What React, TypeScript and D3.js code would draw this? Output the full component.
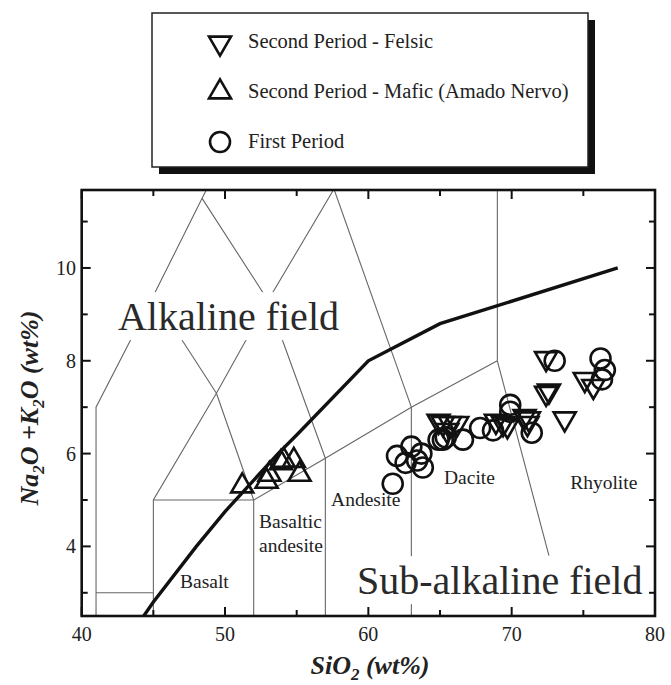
import React from 'react';
import * as d3 from 'd3';

// ---------- data ----------
const xMajorTicks = [40, 50, 60, 70, 80];
const xMinorTicks = [45, 55, 65, 75];
const yMajorTicks = [4, 6, 8, 10];
const yMinorTicks = [3, 5, 7, 9, 11];

const felsic: [number, number][] = [
  [64.9, 6.7], [65.2, 6.65], [65.7, 6.65], [66.2, 6.65], [65.5, 6.5],
  [68.9, 6.7], [69.4, 6.65], [69.7, 6.6], [70.9, 6.8], [71.2, 6.75], [71.1, 6.65],
  [72.4, 8.05], [72.6, 7.35], [72.4, 7.3], [73.7, 6.75], [75.1, 7.6], [75.7, 7.45],
];

const mafic: [number, number][] = [
  [51.2, 5.3], [52.9, 5.4], [53.1, 5.55], [53.9, 5.8], [54.1, 5.85], [54.8, 5.85], [55.2, 5.55],
];

const firstPeriod: [number, number][] = [
  [61.7, 5.35], [62.0, 5.95], [63.0, 6.15], [62.6, 5.8], [63.7, 6.0], [63.4, 5.85], [63.8, 5.7],
  [64.9, 6.3], [65.2, 6.3], [65.4, 6.35], [66.6, 6.3], [67.8, 6.55], [68.7, 6.5],
  [69.9, 7.05], [69.9, 6.9], [71.4, 6.45], [73.0, 8.0], [76.2, 8.05], [76.5, 7.8], [76.3, 7.6],
];

const alkalineDivide: [number, number][] = [
  [39.2, 0], [40, 0.4], [43.2, 2], [45, 2.8], [48, 4], [50, 4.75], [53.7, 6], [55, 6.4],
  [60, 8], [65, 8.8], [77.4, 10],
];

const tasLines: [number, number][][] = [
  [[41, 0], [41, 7], [45, 9.4], [48.4, 11.5], [52.5, 14]],
  [[41, 3], [45, 3]],
  [[45, 0], [45, 5], [49.4, 7.3], [53, 9.3], [57.6, 11.7]],
  [[45, 5], [52, 5]],
  [[52, 0], [52, 5], [57, 5.9], [63, 7], [69, 8]],
  [[49.4, 7.3], [52, 5]],
  [[45, 9.4], [49.4, 7.3]],
  [[48.4, 11.5], [53, 9.3], [57, 5.9]],
  [[57, 0], [57, 5.9]],
  [[63, 0], [63, 7]],
  [[57.6, 11.7], [63, 7]],
  [[69, 8], [69, 14]],
  [[69, 8], [72.6, 3.8]],
];

const rockNames = ['Basalt', 'Basaltic', 'andesite', 'Andesite', 'Dacite', 'Rhyolite'];
const rockAnchors: [number, number][] = [
  [46.86, 3.1], [52.37, 4.4], [52.37, 3.88], [57.4, 4.87], [65.28, 5.34], [74.08, 5.24],
];
const fieldNames = ['Alkaline field', 'Sub-alkaline field'];
const fieldAnchors: [number, number][] = [[42.53, 8.66], [59.21, 2.97]];
const fieldWidths = [224, 286];

const legendLabels = [
  'Second Period - Felsic',
  'Second Period - Mafic (Amado Nervo)',
  'First Period',
];

// ---------- layout ----------
const W = 671;
const H = 685;
const left = 81.7;
const right = 655;
const top = 190;
const bottom = 616;
const serif = 'Liberation Serif';
const fs = (size: number, extra: React.CSSProperties = {}): React.CSSProperties => ({
  fontFamily: serif,
  fontSize: size,
  ...extra,
});

const x = d3.scaleLinear().domain([40, 80]).range([left, right]);
const y = d3.scaleLinear().domain([2.5, 11.68]).range([bottom, top]);

const lineGen = d3.line<[number, number]>().x((d) => x(d[0])).y((d) => y(d[1]));

const triSize = 210;
const triPath = d3.symbol().type(d3.symbolTriangle).size(triSize)() as string;
const circR = 10;

const legendBox = { x: 152, y: 13, w: 436, h: 154 };

function Tri({ cx, cy, down }: { cx: number; cy: number; down?: boolean }) {
  return (
    <path
      d={triPath}
      transform={`translate(${cx},${cy})${down ? ' rotate(180)' : ''}`}
      fill="none"
      stroke="#111"
      strokeWidth={2.6}
      strokeLinejoin="miter"
    />
  );
}

export default function App() {
  return (
    <svg
      width={W}
      height={H}
      style={{ position: 'absolute', left: 0, top: 0, background: '#fff' }}
    >
      <defs>
        <clipPath id="plotclip">
          <rect x={left} y={top} width={right - left} height={bottom - top} />
        </clipPath>
      </defs>
      <rect x={0} y={0} width={W} height={H} fill="#fff" />

      {/* Legend */}
      <rect x={legendBox.x + 7} y={legendBox.y + 7} width={legendBox.w} height={legendBox.h} fill="#111" />
      <rect
        x={legendBox.x}
        y={legendBox.y}
        width={legendBox.w}
        height={legendBox.h}
        fill="#fff"
        stroke="#222"
        strokeWidth={1.5}
      />
      <Tri cx={220} cy={43} down />
      <Tri cx={220} cy={92} />
      <circle cx={220} cy={142} r={circR} fill="none" stroke="#111" strokeWidth={2.6} />
      {legendLabels.map((t, i) => (
        <text key={t} x={248} y={48 + i * 50} style={fs(20.5)} fill="#222">
          {t}
        </text>
      ))}

      {/* TAS field lines */}
      <g clipPath="url(#plotclip)">
        {tasLines.map((l, i) => (
          <path key={i} d={lineGen(l) as string} fill="none" stroke="#666" strokeWidth={1.1} />
        ))}
        <path d={lineGen(alkalineDivide) as string} fill="none" stroke="#111" strokeWidth={3.4} />
      </g>

      {/* Field labels with knockout */}
      {fieldNames.map((t, i) => {
        const fx = x(fieldAnchors[i][0]);
        const fy = y(fieldAnchors[i][1]);
        return (
          <g key={t}>
            <rect x={fx - 6} y={fy - 38} width={fieldWidths[i] + 10} height={48} fill="#fff" />
            <text x={fx} y={fy} style={fs(40)} fill="#2a2a2a">
              {t}
            </text>
          </g>
        );
      })}
      {rockNames.map((t, i) => (
        <text key={t + i} x={x(rockAnchors[i][0])} y={y(rockAnchors[i][1])} style={fs(19.5)} fill="#222">
          {t}
        </text>
      ))}

      {/* Data */}
      <g>
        {firstPeriod.map((d, i) => (
          <circle key={'c' + i} cx={x(d[0])} cy={y(d[1])} r={circR} fill="none" stroke="#111" strokeWidth={2.6} />
        ))}
        {felsic.map((d, i) => (
          <Tri key={'f' + i} cx={x(d[0])} cy={y(d[1])} down />
        ))}
        {mafic.map((d, i) => (
          <Tri key={'m' + i} cx={x(d[0])} cy={y(d[1])} />
        ))}
      </g>

      {/* Frame */}
      <rect x={left} y={top} width={right - left} height={bottom - top} fill="none" stroke="#111" strokeWidth={2.6} />

      {/* Ticks */}
      {xMajorTicks.map((t) => (
        <g key={'xM' + t}>
          <line x1={x(t)} x2={x(t)} y1={bottom} y2={bottom - 9} stroke="#111" strokeWidth={2} />
          <line x1={x(t)} x2={x(t)} y1={top} y2={top + 9} stroke="#111" strokeWidth={2} />
          <text x={x(t)} y={641} textAnchor="middle" style={fs(20)} fill="#222">
            {t}
          </text>
        </g>
      ))}
      {xMinorTicks.map((t) => (
        <g key={'xm' + t}>
          <line x1={x(t)} x2={x(t)} y1={bottom} y2={bottom - 6} stroke="#111" strokeWidth={2} />
          <line x1={x(t)} x2={x(t)} y1={top} y2={top + 6} stroke="#111" strokeWidth={2} />
        </g>
      ))}
      {yMajorTicks.map((t) => (
        <g key={'yM' + t}>
          <line x1={left} x2={left + 9} y1={y(t)} y2={y(t)} stroke="#111" strokeWidth={2} />
          <line x1={right} x2={right - 9} y1={y(t)} y2={y(t)} stroke="#111" strokeWidth={2} />
          <text x={76} y={y(t) + 7} textAnchor="end" style={fs(20)} fill="#222">
            {t}
          </text>
        </g>
      ))}
      {yMinorTicks.map((t) => (
        <g key={'ym' + t}>
          <line x1={left} x2={left + 6} y1={y(t)} y2={y(t)} stroke="#111" strokeWidth={2} />
          <line x1={right} x2={right - 6} y1={y(t)} y2={y(t)} stroke="#111" strokeWidth={2} />
        </g>
      ))}

      {/* Axis titles */}
      <text
        x={370}
        y={674}
        textAnchor="middle"
        style={fs(26, { fontWeight: 'bold', fontStyle: 'italic' })}
        fill="#222"
      >
        SiO
        <tspan style={{ fontSize: 17 }} dy={6}>2</tspan>
        <tspan dy={-6}> (wt%)</tspan>
      </text>
      <text
        transform={`translate(38,408) rotate(-90)`}
        textAnchor="middle"
        style={fs(26, { fontWeight: 'bold', fontStyle: 'italic' })}
        fill="#222"
      >
        Na
        <tspan style={{ fontSize: 17 }} dy={6}>2</tspan>
        <tspan dy={-6}>O +K</tspan>
        <tspan style={{ fontSize: 17 }} dy={6}>2</tspan>
        <tspan dy={-6}>O (wt%)</tspan>
      </text>
    </svg>
  );
}
